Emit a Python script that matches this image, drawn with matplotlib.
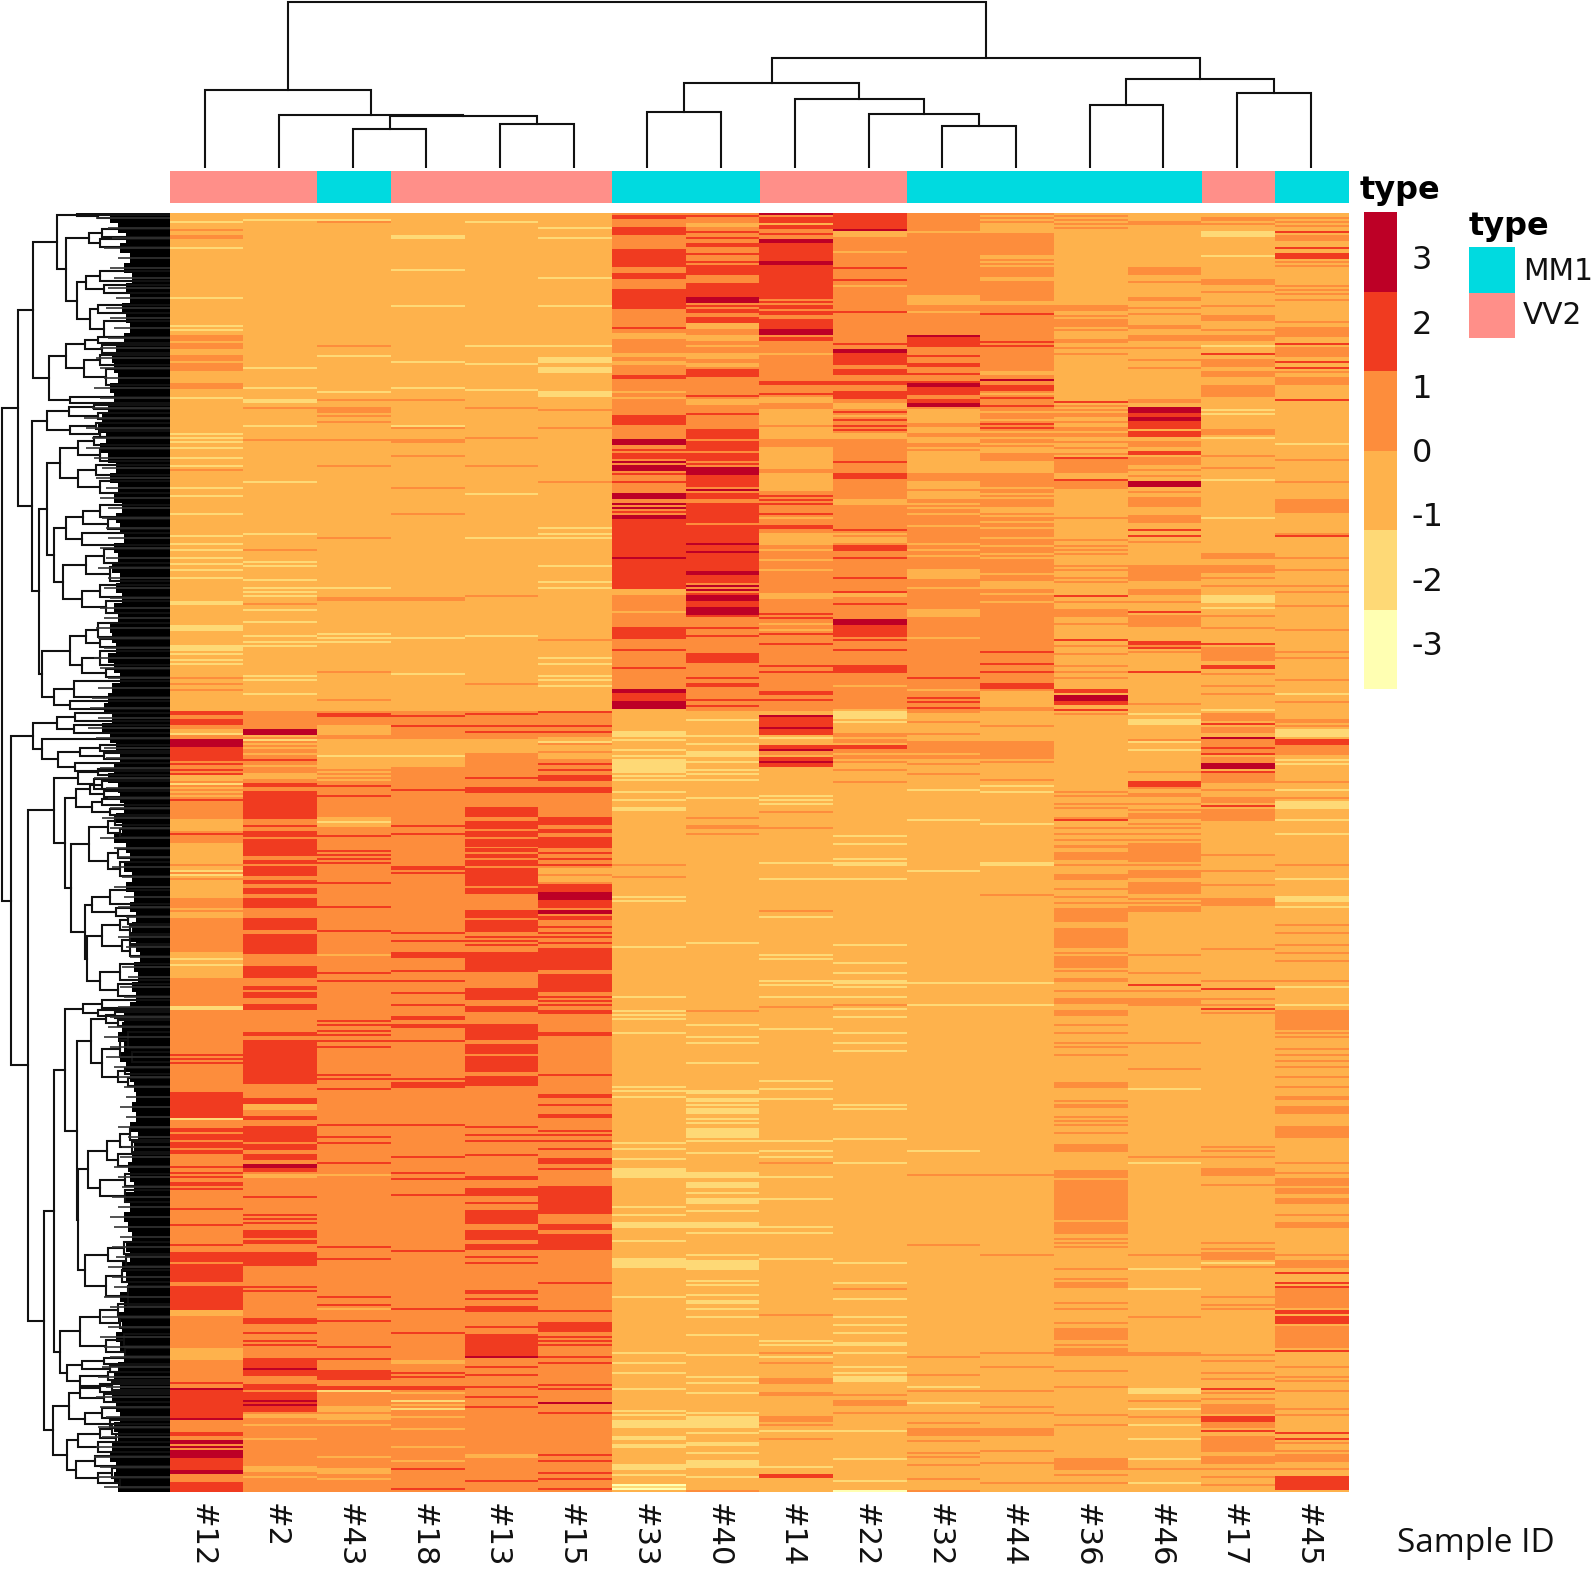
import matplotlib
matplotlib.use("Agg")
import matplotlib.pyplot as plt
import numpy as np
from matplotlib.colors import ListedColormap, BoundaryNorm
from matplotlib.patches import Rectangle

# ---------- data: colour bins of the heatmap ----------
Y, L, B, O, R, D = 0, 1, 2, 3, 4, 5
bin_colors = ["#FFFFB2", "#FED976", "#FEB24C", "#FD8D3C", "#F03B20", "#BD0026"]
n_rows = 640
samples = ["#12", "#2", "#43", "#18", "#13", "#15", "#33", "#40", "#14", "#22", "#32", "#44", "#36", "#46", "#17", "#45"]
sample_type = ["VV2", "VV2", "MM1", "VV2", "VV2", "VV2", "MM1", "MM1", "VV2", "VV2", "MM1", "MM1", "MM1", "MM1", "VV2", "MM1"]
type_colors = {"MM1": "#00DAE0", "VV2": "#FF8F89"}
cbar_ticks = [3, 2, 1, 0, -1, -2, -3]

# each entry: (row, level) for one row, (first, end, level) for a band; later entries overwrite
col_12 = [(4,L),(8,O),(11,13,O),(17,L),(42,L),(56,L),(58,L),(61,64,O),(65,68,O),(71,74,O),(75,79,O),(85,88,O),(92,L),
 (110,L),(112,L),(114,L),(117,L),(122,L),(126,L),(128,O),(137,L),(141,L),(150,L),(161,L),(165,L),(168,L),(172,L),(175,L),(178,L),
 (182,L),(194,196,L),(206,209,L),(216,219,L),(220,L),(223,L),(225,L),(232,O),(235,O),(238,O),
 (249,640,O),(249,251,R),(253,256,R),(258,260,B),(260,L),(263,267,D),(267,274,R),(275,R),(278,R),(280,R),(281,284,B),(285,L),(287,B),(289,B),(291,B),(293,R),
 (303,309,B),(310,R),(315,326,B),(327,329,B),(329,L),(331,L),(332,B),(334,343,B),(348,B),(350,353,B),(370,376,B),(373,L),(376,L),(377,383,B),(397,399,L),
 (421,R),(423,R),(425,R),(440,453,R),(453,L),(458,460,R),(461,464,R),(465,471,R),(468,O),(477,R),(480,R),(482,R),(485,R),(486,R),(488,R),(498,R),(506,R),(516,R),
 (520,525,R),(526,535,R),(537,549,R),(549,552,B),(568,574,B),(585,R),(588,603,R),(588,D),(603,D),(610,612,R),(614,616,D),(617,D),(619,623,D),(623,629,R),(629,631,D),(635,640,R)]
col_2 = [(3,L),(77,L),(87,L),(93,95,L),(97,O),(106,L),(113,O),(134,L),(160,L),(168,O),(174,L),(176,L),(183,L),(187,L),(189,L),(191,L),(195,O),(198,L),(204,L),(211,L),(214,L),(216,L),(231,L),(233,L),(240,L),
 (249,640,O),(258,261,D),(261,B),(263,L),(265,B),(267,B),(270,B),(273,R),(276,B),(280,283,B),(285,287,R),(289,303,R),(306,R),(309,R),(310,312,R),(313,322,R),(324,326,R),(327,332,R),(334,336,R),(338,341,R),(343,348,R),(353,359,R),(361,371,R),(377,383,R),(387,389,R),(390,393,R),(396,399,R),(410,412,R),(414,436,R),(444,446,R),(448,R),(452,R),(443,445,R),(446,449,B),(452,454,R),(457,465,R),(466,469,R),(471,474,R),(476,478,D),(478,480,R),(481,483,B),(492,R),(501,R),(503,R),(505,R),(509,513,R),(514,516,R),(520,527,R),(537,R),(539,R),(553,556,R),(560,R),(564,R),(566,R),(573,582,R),(578,D),(586,589,R),(590,600,R),(594,D),(596,D),(601,603,B),(606,B),(613,B),(627,630,B),(632,B)]
col_43 = [(3,L),(4,O),(66,O),(71,L),(89,L),(93,O),(97,100,O),(101,O),(104,O),(113,O),(126,O),(162,O),(187,L),(192,194,O),(210,L),(212,L),(214,L),(229,O),(243,O),
 (249,640,O),(250,252,R),(256,261,B),(263,277,B),(271,L),(277,B),(279,B),(281,B),(283,B),(286,R),(291,R),(302,307,B),(304,L),(311,R),(319,R),(321,R),(323,R),(325,R),(335,R),(347,R),(359,R),(371,B),(380,R),(384,R),(404,R),(406,R),(409,R),(411,R),(414,R),(417,R),(431,R),(433,R),(438,R),(456,R),(462,R),(465,R),(475,R),(481,B),(517,R),(523,R),(542,R),(546,R),(548,B),(554,R),(567,R),(573,R),(579,584,R),(587,589,R),(589,L),(597,600,B),(601,604,B),(606,B),(622,B),(628,631,B),(633,B)]
col_18 = [(11,13,L),(28,L),(46,L),(74,L),(87,L),(93,O),(106,L),(107,O),(113,O),(114,O),(121,O),(137,O),(150,O),(192,194,O),(212,L),(230,L),
 (249,640,O),(251,R),(256,R),(263,277,B),(271,L),(288,R),(306,R),(310,R),(327,329,R),(330,331,R),(360,R),(364,R),(370,373,R),(379,R),(384,R),(390,R),(396,R),(402,404,R),(406,408,R),(414,R),(433,R),(435,438,R),(456,R),(472,R),(480,R),(483,R),(491,R),(519,R),(548,R),(560,R),(574,576,B),(580,R),(582,R),(587,589,R),(590,B),(594,L),(596,B),(598,L),(602,B),(608,B),(617,B),(624,B),(628,R),(638,R)]
col_13 = [(4,L),(66,L),(75,L),(88,L),(97,O),(112,O),(126,O),(140,L),(162,L),(191,O),(211,L),(235,O),
 (249,640,O),(250,R),(256,R),(259,R),(263,270,B),(282,R),(287,290,R),(297,302,R),(304,308,R),(309,312,R),(313,317,R),(318,320,R),(321,323,R),(324,327,R),(328,337,R),(338,341,R),(349,353,R),(354,360,R),(362,R),(364,R),(366,R),(370,380,R),(388,394,R),(397,400,R),(406,414,R),(416,421,R),(422,430,R),(432,437,R),(457,R),(461,R),(464,R),(471,R),(482,484,R),(488,492,R),(495,R),(499,506,R),(509,514,R),(516,519,R),(522,R),(525,R),(539,541,R),(543,R),(547,550,R),(557,R),(561,572,R),(572,D),(577,R),(581,R),(587,R),(592,R),(597,R),(621,623,B),(634,R)]
col_15 = [(7,L),(12,L),(32,L),(46,L),(66,L),(72,75,L),(77,80,L),(89,92,L),(98,O),(107,O),(134,O),(157,L),(160,L),(162,L),(176,L),(184,L),(187,L),(213,O),(222,L),(225,L),(231,L),(233,L),(236,L),
 (249,640,O),(249,R),(256,R),(259,R),(262,265,B),(264,L),(266,273,B),(269,O),(275,R),(278,R),(281,284,R),(287,290,R),(302,306,R),(308,310,R),(312,318,R),(320,R),(323,R),(326,R),(328,335,B),(331,O),(336,340,R),(340,344,D),(344,348,R),(349,351,D),(352,354,R),(357,R),(360,R),(362,R),(365,R),(368,379,R),(381,390,R),(392,R),(394,R),(396,R),(399,401,R),(410,412,R),(431,R),(441,443,R),(446,R),(451,453,R),(459,R),(461,R),(464,R),(468,R),(473,476,R),(478,R),(487,501,R),(506,509,R),(511,519,R),(535,R),(549,R),(555,560,R),(562,R),(564,R),(566,R),(572,R),(575,R),(586,R),(588,R),(595,D),(600,R),(621,R),(624,R),(630,R),(633,R),(638,R)]
col_33 = [(0,240,O),(1,3,R),(7,11,R),(18,27,R),(30,33,R),(38,48,R),(57,R),(60,63,B),(70,72,B),(74,76,B),(81,83,R),(89,B),(92,B),(101,106,R),(113,116,D),(118,R),(120,123,R),(124,D),(126,129,D),(130,R),(134,R),(140,143,D),(145,D),(147,D),(151,153,D),(149,R),(153,172,R),(172,D),(173,188,R),(188,191,B),(199,B),(207,213,R),(218,R),(227,R),(238,240,D),(240,244,R),(244,248,D),
 (259,262,L),(258,B),(263,L),(268,L),(271,L),(273,280,L),(281,L),(283,L),(289,L),(293,L),(297,299,L),(326,O),(332,O),(342,L),(344,L),(392,L),(367,L),(399,L),(401,L),(403,L),(410,L),(437,L),(439,L),(442,L),(465,L),(468,L),(473,L),(478,483,L),(497,L),(501,L),(505,508,L),(514,L),(523,528,L),(542,L),(570,L),(575,L),(580,L),(588,L),(599,L),(601,L),(604,608,L),(612,614,L),(616,618,L),(626,629,L),(631,L),(636,639,Y),(637,L)]
col_40 = [(0,249,O),(1,R),(5,7,B),(9,R),(12,R),(15,17,R),(20,R),(24,R),(26,31,R),(35,42,R),(42,45,D),(46,R),(48,50,R),(52,55,R),(55,58,B),(61,64,B),(66,B),(70,73,B),(75,77,B),(78,82,R),(91,R),(93,96,B),(100,R),(108,113,R),(114,119,R),(120,124,R),(125,R),(127,131,D),(131,137,R),(138,D),(140,143,R),(145,155,R),(156,179,R),(165,D),(169,D),(179,181,D),(181,185,R),(186,D),(188,D),(190,R),(191,194,D),(194,197,R),(197,201,D),(201,R),(207,R),(211,R),(220,225,R),(232,R),(235,237,R),(243,R),(246,R),
 (249,640,B),(253,L),(261,L),(265,L),(269,L),(270,272,L),(274,L),(278,L),(280,L),(283,L),(292,L),(302,O),(306,308,O),(310,O),(365,L),(399,O),(406,L),(412,L),(415,L),(425,L),(439,441,L),(443,445,L),(449,451,L),(453,L),(446,L),(448,450,L),(455,L),(458,463,L),(464,L),(470,L),(480,483,L),(485,488,L),(490,L),(493,496,L),(499,L),(505,508,L),(510,L),(521,L),(524,529,L),(534,L),(536,L),(541,L),(544,546,L),(548,L),(552,L),(561,L),(571,L),(582,L),(585,L),(590,L),(600,L),(602,608,L),(610,L),(615,617,L),(620,L),(624,628,L),(632,L),(639,O)]
col_14 = [(0,1,D),(1,249,O),(2,5,R),(5,B),(6,8,R),(10,R),(13,15,D),(15,24,R),(24,26,D),(26,43,R),(44,R),(46,51,R),(48,O),(53,58,R),(58,61,D),(62,64,R),(70,B),(84,86,R),(90,R),(92,95,B),(98,106,B),(107,L),(107,113,B),(117,128,B),(130,139,B),(141,R),(143,R),(145,R),(152,B),(150,R),(156,158,R),(160,166,B),(168,B),(173,B),(178,B),(190,193,B),(200,R),(202,R),(205,B),(208,B),(210,R),(215,R),(226,R),(229,R),(239,241,R),(243,R),(249,B),
 (249,253,B),(251,D),(252,257,R),(257,258,D),(258,261,R),(262,L),(264,B),(266,268,R),(268,D),(269,271,O),(272,274,R),(274,D),(275,277,R),(278,640,B),(254,R),(291,L),(293,L),(295,L),(299,O),(307,O),(325,L),(333,L),(349,O),(352,L),(371,L),(373,L),(384,L),(386,L),(392,L),(397,O),(408,L),(434,L),(434,L),(438,L),(443,L),(464,L),(469,L),(472,L),(475,O),(482,L),(493,L),(507,L),(510,L),(523,L),(551,O),(564,L),(566,L),(570,O),(572,L),(575,O),(583,586,O),(590,592,O),(602,605,O),(606,O),(609,L),(613,O),(627,L),(631,633,R)]
col_22 = [(0,249,O),(0,8,R),(8,D),(9,12,B),(19,B),(27,R),(33,R),(36,B),(49,R),(65,R),(68,70,D),(70,76,R),(78,81,R),(84,86,R),(89,93,R),(95,98,B),(99,R),(101,B),(103,R),(106,R),(108,R),(110,B),(111,113,B),(124,R),(130,133,R),(143,146,B),(158,R),(160,B),(162,165,B),(166,169,R),(172,R),(182,R),(189,R),(190,192,B),(195,R),(197,201,O),(203,206,D),(206,212,R),(213,R),(218,R),(226,230,R),(236,B),(248,249,B),
 (249,255,L),(250,252,O),(249,640,B),(249,253,L),(254,L),(260,262,O),(263,265,O),(266,268,R),(268,270,O),(271,273,O),(274,O),(278,O),(284,O),(311,L),(315,L),(323,L),(325,327,L),(333,L),(366,L),(375,L),(380,L),(384,L),(385,L),(387,L),(392,L),(396,O),(398,L),(402,L),(410,L),(415,L),(419,L),(446,L),(448,L),(463,L),(475,L),(525,L),(535,L),(538,O),(543,L),(552,L),(556,L),(560,L),(565,567,L),(570,L),(577,L),(580,L),(582,585,L),(591,O),(594,597,O),(600,O),(609,L),(623,L),(634,L),(639,Y)]
col_32 = [(0,249,O),(9,10,B),(41,46,B),(49,B),(61,67,R),(61,D),(71,R),(75,77,R),(80,R),(84,91,R),(85,87,D),(93,95,R),(95,97,D),(98,105,B),(107,110,B),(112,115,B),(117,130,B),(118,O),(134,137,B),(137,B),(139,143,B),(145,B),(147,B),(150,B),(156,B),(165,B),(168,B),(171,B),(178,183,B),(187,B),(198,202,B),(212,B),(232,R),(238,B),(242,R),(244,R),(247,R),(249,640,B),(263,B),(249,O),
 (254,O),(260,O),(264,270,O),(271,273,O),(275,O),(280,O),(288,L),(303,L),(329,L),(385,L),(396,L),(469,L),(481,O),(516,O),(572,O),(581,O),(587,L),(589,O),(595,L),(600,O),(605,O),(608,612,O),(614,O),(620,O),(622,O),(626,O),(633,O),(639,O)]
col_44 = [(0,249,O),(1,B),(3,B),(5,B),(6,10,B),(21,23,B),(24,B),(26,B),(32,34,B),(44,46,B),(50,R),(64,R),(66,R),(79,81,B),(83,D),(86,89,R),(90,B),(92,R),(96,R),(99,B),(105,R),(107,R),(103,B),(109,B),(112,B),(115,B),(117,120,B),(124,130,B),(126,B),(137,B),(140,B),(142,B),(147,B),(147,150,B),(151,B),(154,B),(157,B),(162,B),(166,B),(170,B),(172,B),(180,B),(184,188,B),(190,B),(194,B),(219,R),(225,R),(229,R),(235,238,R),(239,247,B),(249,640,B),
 (256,O),(264,273,O),(274,O),(283,O),(286,L),(289,L),(305,L),(325,L),(326,L),(341,O),(385,L),(396,L),(481,O),(521,O),(570,O),(577,O),(589,O),(597,O),(600,O),(608,612,O),(619,O),(625,O),(635,O)]
col_36 = [(1,O),(3,O),(5,O),(7,O),(46,49,O),(51,O),(53,57,O),(58,O),(63,65,O),(67,O),(70,O),(94,R),(96,O),(98,O),(100,102,O),(104,O),(107,O),(108,O),(110,112,O),(114,O),(117,O),(120,O),(122,R),(123,130,O),(133,R),(134,138,O),(152,O),(163,O),(166,O),(168,O),(170,O),(176,O),(178,O),(182,O),(184,O),(191,R),(194,O),(198,202,O),(205,O),(213,R),(216,O),(220,O),(226,O),(229,O),(232,O),(238,240,R),(241,244,D),(244,246,R),(248,R),(250,O),
 (289,O),(291,O),(295,O),(297,O),(303,R),(302,O),(307,O),(310,O),(313,O),(316,318,O),(320,324,O),(323,O),(326,O),(331,334,O),(338,O),(342,O),(345,O),(348,355,O),(358,368,O),(370,O),(372,378,O),(379,O),(383,385,O),(389,O),(393,396,O),(399,402,O),(406,O),(410,O),(415,O),(417,O),(421,O),(435,438,O),(444,O),(447,O),(452,O),(444,O),(446,O),(452,O),(454,O),(456,O),(460,O),(466,470,O),(479,483,O),(484,504,O),(505,511,O),(513,O),(515,O),(517,O),(528,O),(533,O),(535,538,O),(545,O),(548,O),(555,O),(558,564,O),(566,O),(568,572,O),(579,O),(587,O),(601,O),(606,O),(623,629,O),(631,O),(635,O)]
col_46 = [(4,6,O),(27,31,O),(34,O),(42,44,O),(47,O),(50,O),(56,58,O),(61,64,O),(67,O),(73,O),(77,O),(93,95,O),(97,100,D),(100,102,R),(102,104,D),(104,108,R),(109,112,R),(114,117,O),(119,121,R),(122,126,O),(128,O),(131,O),(134,137,D),(139,O),(142,147,O),(151,155,O),(158,R),(161,R),(164,O),(176,184,O),(188,191,O),(194,O),(199,R),(201,207,O),(214,218,R),(216,O),(219,O),(229,R),(245,O),
 (250,L),(253,256,L),(263,O),(264,L),(268,L),(279,O),(284,287,R),(287,O),(290,292,O),(295,O),(298,O),(300,303,O),(305,O),(307,O),(310,O),(313,O),(315,325,O),(326,O),(329,O),(330,333,O),(335,341,O),(343,O),(345,O),(347,350,O),(371,O),(380,O),(386,R),(389,O),(393,397,O),(415,O),(428,O),(438,L),(472,O),(475,L),(521,O),(528,L),(538,L),(552,O),(570,572,O),(588,591,L),(594,O),(598,L),(602,O),(606,L),(613,L),(623,L),(628,O),(635,L)]
col_17 = [(2,4,O),(5,O),(9,12,L),(21,L),(33,36,O),(39,O),(46,O),(51,54,O),(58,O),(61,64,O),(66,L),(70,R),(73,77,O),(79,82,O),(86,92,O),(98,L),(100,L),(108,111,O),(112,L),(121,O),(127,O),(133,L),(152,L),(170,173,O),(176,180,O),(182,O),(186,O),(191,195,L),(197,L),(201,O),(207,O),(215,R),(217,224,O),(226,228,R),(230,O),(236,O),(240,O),(248,L),
 (250,254,O),(255,R),(257,260,O),(262,D),(263,270,O),(267,R),(270,R),(272,275,O),(275,278,D),(279,R),(280,285,O),(288,O),(292,295,O),(296,R),(298,304,O),(321,O),(329,O),(336,O),(343,347,O),(368,O),(384,O),(388,R),(393,O),(396,O),(398,R),(400,O),(467,O),(469,O),(472,O),(478,482,O),(486,O),(515,O),(518,O),(520,524,O),(525,L),(527,O),(542,O),(546,O),(548,O),(571,O),(574,O),(580,O),(583,O),(588,R),(590,O),(593,O),(596,601,O),(602,605,R),(605,608,O),(609,R),(612,620,O),(622,626,O),(628,O),(632,O),(636,O)]
col_45 = [(2,O),(4,O),(6,O),(9,R),(11,14,O),(17,R),(20,23,R),(24,O),(26,O),(36,O),(38,O),(40,O),(43,O),(54,O),(57,O),(58,62,O),(65,R),(67,72,O),(74,R),(77,R),(79,O),(82,86,O),(93,R),(115,L),(123,O),(134,O),(143,150,O),(160,O),(161,R),(172,O),(178,O),(186,O),(189,O),(196,O),(208,O),(219,O),(222,O),(233,O),(240,L),(244,O),(253,O),(256,R),(259,262,L),(263,266,R),(268,O),
 (254,O),(256,O),(258,261,L),(263,265,R),(266,271,O),(273,L),(275,L),(284,O),(288,L),(292,O),(294,298,L),(303,L),(310,L),(326,O),(333,L),(342,345,L),(347,L),(356,O),(360,O),(366,O),(370,O),(374,O),(384,O),(387,L),(396,L),(399,409,O),(410,O),(412,O),(418,O),(421,O),(424,O),(427,O),(432,O),(437,O),(442,444,O),(447,451,O),(457,463,O),(475,O),(480,O),(483,487,O),(488,491,O),(493,496,O),(501,O),(505,508,O),(521,O),(524,528,O),(530,R),(535,R),(537,R),(538,548,O),(549,551,R),(552,556,R),(557,568,O),(569,R),(577,O),(582,O),(584,O),(589,O),(598,O),(601,O),(610,R),(613,R),(615,O),(619,O),(621,625,O),(628,O),(632,639,R)]
heat_columns = [col_12, col_2, col_43, col_18, col_13, col_15, col_33, col_40, col_14, col_22, col_32, col_44, col_36, col_46, col_17, col_45]

# column tree: (height, left, right), leaves are column indices
col_tree = (163, (77, 0, (52, 1, (51, (38, 2, 3), (43, 4, 5)))),
            (108, (84, (55, 6, 7), (68, 8, (53, 9, (41, 10, 11)))),
             (88, (62, 12, 13), (74, 14, 15))))

# row tree: (distance, upper, lower), leaves are row numbers
row_top = (137,
 (113, (93, 0.5, (72, 1, 2.5)),
  (104, (81, (68, 8, 12), (70, 13, 17)),
   (93, (84, (70, 29, 34), (66, 36, 40)), (80, (72, 46, 50), (66, 54, 62))))),
 (121, (104, (85, (72, 62, 65), (68, 66, 70)), (86, (70, 71, 76), (64, 78, 86))), (100, 92, 95)))
row_mid = (138,
 (123, (101, (76, 96, 98), (72, 100, 103)), (100, (74, 105, 108), (70, 109, 112))),
 (131,
  (123,
   (110, (92, (76, 112, 116), (70, 118, 124)), (92, (74, 126, 131), (70, 134, 140))),
   (116, (104, (87, (70, 146, 152), (62, 153, 158)), (88, 160, 166)),
    (107, (84, (66, 168, 175), (60, 177, 184)), (88, (70, 186, 192), (64, 194, 200))))),
  (128,
   (100, (84, (72, 205, 212), (70, 213, 217)), (88, (70, 219, 226), (64, 228, 232))),
   (116, (96, 234, 242), (100, 244, 248)))))
row_low_a = (137, (113, (95, 250, 254), (96, 256, 260)),
 (128, 263, (112, (90, (70, 266, 269), (66, 270, 273)), (95, 275, 279))))
row_low_b = (116, (92, (72, 278, 281), (76, 283, 288)),
 (105, (94, (80, (68, 284, 288), (66, 289, 292)), (78, (68, 293, 296), (60, 298, 301))),
  (99, (81, (62, (55, 302, 306), (50, 308, 312)), (62, (52, 318, 323), (50, 325, 332))),
   (85, (78, (60, 339, 346), (54, 348, 352)),
    (83, (68, (50, (42, 352, 356), (40, 357, 361)), (48, (40, 362, 366), (40, 367, 372))),
     (70, (50, 376, 384), (52, 386, 392)))))))
row_low_c = (105, (87, (68, 394, 398), (72, 399, 402)),
 (93, (79, (64, (55, 400, 403), (52, 404, 407)), (68, (50, (42, 410, 418), (38, 420, 425)), (52, (45, 428, 431), (42, 433, 437)))),
  (92, (82, (63, (50, (40, 458, 464), (38, 465, 470)), (52, 471, 477)), (70, (45, 481, 487), (45, 489, 495))),
   (85, (62, (46, 515, 521), (44, 522, 527)), (64, (48, 529, 535), (42, 537, 547))))))
row_low_d = (110, (90, (70, (52, 546, 552), (50, 553, 558)), (64, (46, 561, 567), (45, 568, 572))),
 (103, (88, (66, 573, 576), (60, 577, 580)), (90, (62, 580, 584), (58, 585, 589))))
row_low_e = (117, (101, (90, (70, 586, 590), (66, 591, 595)), (85, (68, 598, 603), (60, 604, 608))),
 (103, (92, (70, (58, 606, 611), (54, 611, 615)), (72, 615, 620)),
  (94, (75, 622, 627), (72, (58, 628, 633), (50, 633, 638)))))
row_tree = (168, (152, row_top, row_mid),
            (159, row_low_a, (142, row_low_b, (126, (116, row_low_c, row_low_d), row_low_e))))

# reach of the dense leaf branches, one value per 5 rows: solid part, then the thin tips
leaf_reach = [60,52,44,50,40,46,38,44,40,48,44,40,46,54,58,56,52,60,56,62,68,72,64,70,62,54,60,52,56,48,54,50,
              46,56,52,58,50,54,48,56,52,60,58,54,62,56,50,58,62,66,58,68,60,54,50,56,62,52,50,46,54,48,56,44,
              40,46,38,44,36,40,34,38,40,34,30,36,32,38,34,40,46,48,52,46,50,44,40,36,34,38,34,40,32,36,38,42,
              40,36,44,40,46,42,38,44,40,48,44,42,50,46,52,48,54,50,46,52,56,50,58,54,50,56,52,58,60,54,56,52]
leaf_tips = [74,62,58,66,52,60,56,62,54,64,60,56,62,70,74,70,66,76,70,78,86,84,78,84,76,68,74,64,70,62,68,64,
             62,70,64,72,62,66,60,70,66,74,72,66,76,70,62,72,78,80,72,82,74,66,64,70,76,64,62,60,68,60,70,56,
             52,58,48,56,46,52,44,48,52,44,40,48,42,50,46,52,60,62,66,60,64,56,52,46,44,50,44,52,42,48,50,56,
             52,48,58,52,60,56,50,58,54,62,58,56,66,60,68,62,70,66,60,68,72,64,74,70,64,72,68,74,76,70,72,66]

# ---------- figure ----------
W, H = 1594, 1569
fig = plt.figure(figsize=(W / 100, H / 100), dpi=100, facecolor="white")
plt.rcParams["font.family"] = "DejaVu Sans"


def px_axes(x0, y0, x1, y1):
    ax = fig.add_axes([x0 / W, 1 - y1 / H, (x1 - x0) / W, (y1 - y0) / H])
    ax.axis("off")
    return ax


hx0, hx1, hy0, hy1 = 170, 1349, 213, 1492
matrix = np.full((n_rows, len(samples)), B)
for j, col in enumerate(heat_columns):
    for item in col:
        if len(item) == 2:
            matrix[item[0], j] = item[1]
        else:
            matrix[item[0]:item[1], j] = item[2]

cmap = ListedColormap(bin_colors)
norm = BoundaryNorm(np.arange(-0.5, 6.5), cmap.N)
ax = px_axes(hx0, hy0, hx1, hy1)
ax.imshow(matrix, cmap=cmap, norm=norm, aspect="auto", interpolation="nearest", extent=(0, 16, n_rows, 0))

# annotation bar
ax_a = px_axes(hx0, 171, hx1, 203)
for j, t in enumerate(sample_type):
    ax_a.bar(j, 1, width=1.0, align="edge", color=type_colors[t], linewidth=0)
ax_a.set_xlim(0, 16)
ax_a.set_ylim(0, 1)
fig.text(1360 / W, 1 - 190 / H, "type", fontsize=23, fontweight="bold", ha="left", va="center")


# top dendrogram
ax_t = px_axes(hx0 - 1.5, 0, hx1 - 1.5, 168)
ax_t.set_xlim(0, 16)
ax_t.set_ylim(0, 165.3)


def draw_top(node):
    if not isinstance(node, tuple):
        return node + 0.5, 0
    h, a, b = node
    xa, ha = draw_top(a)
    xb, hb = draw_top(b)
    ax_t.plot([xa, xa, xb, xb], [ha, h, h, hb], color="#111111", lw=1.5, solid_joinstyle="miter")
    return (xa + xb) / 2, h


draw_top(col_tree)

# left dendrogram
ax_l = px_axes(0, hy0, hx0, hy1)
ax_l.set_xlim(170, 0)
ax_l.set_ylim(n_rows, 0)


def draw_left(node):
    if not isinstance(node, tuple):
        return node, 0
    d, a, b = node
    ya, da = draw_left(a)
    yb, db = draw_left(b)
    ax_l.plot([da, d, d, db], [ya, ya, yb, yb], color="#111111", lw=1.5, solid_joinstyle="miter")
    return (ya + yb) / 2, d


draw_left(row_tree)
rows5 = np.arange(len(leaf_reach)) * 5
ax_l.hlines(rows5 + 2.5, 0, leaf_tips, color="#333333", lw=1.2)
ax_l.barh(rows5, leaf_reach, height=5, align="edge", color="black", linewidth=0)

# colour key
ax_c = px_axes(1364, 212, 1397, 689)
edges = np.linspace(-3.70, 3.72, 7)
for i in range(6):
    ax_c.bar(0, edges[i + 1] - edges[i], bottom=edges[i], width=1, align="edge", color=bin_colors[i], linewidth=0)
ax_c.set_xlim(0, 1)
ax_c.set_ylim(-3.70, 3.72)
for t in cbar_ticks:
    ax_c.text(1.45, t - 0.04, str(t), fontsize=23, ha="left", va="center", clip_on=False, color="#111111")

# type legend
fig.text(1469 / W, 1 - 227 / H, "type", fontsize=23, fontweight="bold", ha="left", va="center")
for i, name in enumerate(["MM1", "VV2"]):
    fig.add_artist(Rectangle((1469 / W, 1 - (247 + 45.5 * (i + 1)) / H), 46 / W, 45.5 / H, transform=fig.transFigure,
                             facecolor=type_colors[name], edgecolor="none"))
    fig.text(1523 / W, 1 - (271 + 45 * i) / H, name, fontsize=21.3, ha="left", va="center", color="#111111")

# sample labels
for j, s in enumerate(samples):
    fig.text((hx0 + (j + 0.5) * (hx1 - hx0) / 16 - 5) / W, 1 - 1503 / H, s, rotation=270, fontsize=22,
             ha="center", va="top", color="#111111")
fig.text(1476 / W, 1 - 1544 / H, "Sample ID", fontsize=24, family="Open Sans", ha="center", va="center", color="#111111")

fig.savefig("out.png", dpi=100, facecolor="white")
